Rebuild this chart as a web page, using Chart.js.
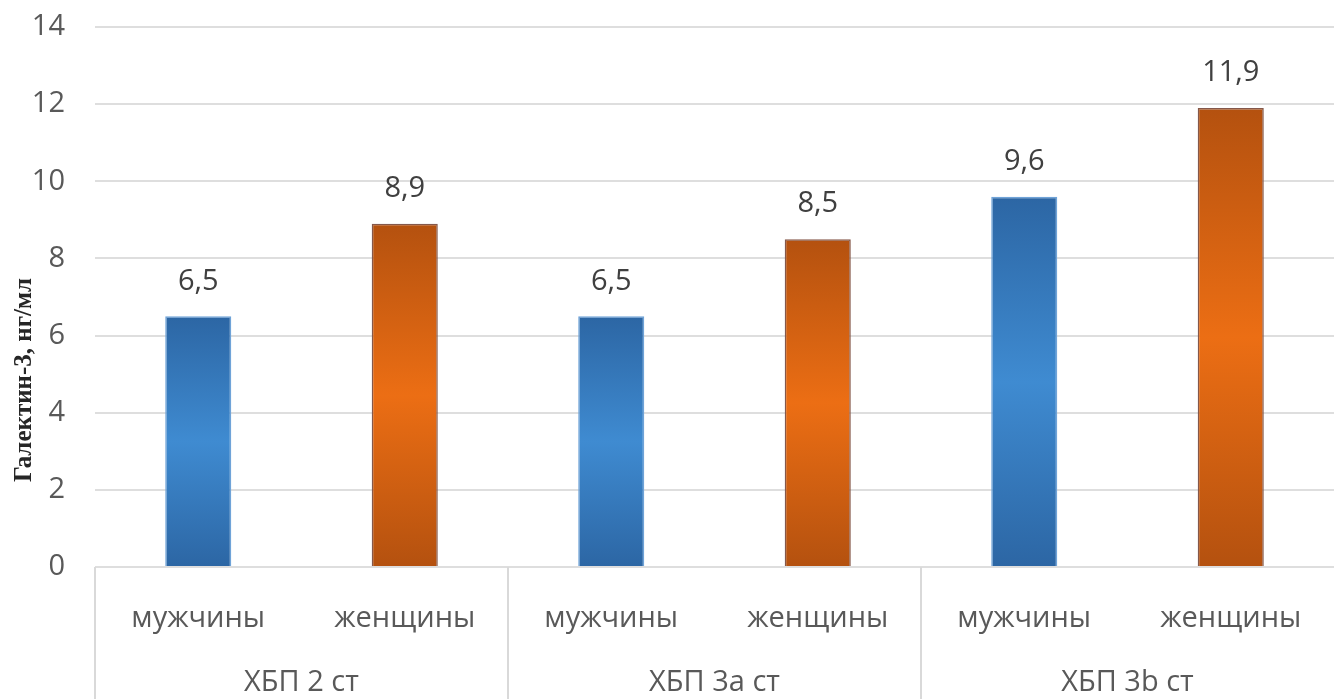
<!DOCTYPE html>
<html lang="ru">
<head>
<meta charset="utf-8">
<title>Галектин-3</title>
<script src="https://cdn.jsdelivr.net/npm/chart.js@4.4.1/dist/chart.umd.min.js"></script>
<style>
    html, body { margin: 0; padding: 0; background: #fff; }
    #contenedor { width: 1334px; height: 699px; position: relative; }
</style>
</head>
<body>
<div id="contenedor"><canvas id="grafico"></canvas></div>
<script>
// Datos del gráfico
const subgrupos = ['мужчины', 'женщины', 'мужчины', 'женщины', 'мужчины', 'женщины'];
const grupos = ['ХБП 2 ст', 'ХБП 3а ст', 'ХБП 3b ст'];
const valores = [6.5, 8.9, 6.5, 8.5, 9.6, 11.9];
const ticksY = [0, 2, 4, 6, 8, 10, 12, 14];
const tituloY = 'Галектин-3, нг/мл';

// Colores: [oscuro, claro, borde]
const azul = ['#2c66a4', '#3f8bd1', '#6fa3d8'];
const naranja = ['#b4510f', '#ec6e14', '#85584a'];

const fuente = '"Open Sans", sans-serif';
const grisTexto = '#595959';

function colorSerie(i) {
    return i % 2 === 0 ? azul : naranja;
}

// Degradado vertical por barra (oscuro - claro - oscuro)
function rellenoBarra(context) {
    const c = colorSerie(context.dataIndex);
    const y = context.chart.scales.y;
    if (!y || context.type !== 'data') return c[1];
    const top = y.getPixelForValue(context.raw);
    const base = y.getPixelForValue(0);
    if (!isFinite(top) || !isFinite(base) || top === base) return c[1];
    const g = context.chart.ctx.createLinearGradient(0, top, 0, base);
    g.addColorStop(0, c[0]);
    g.addColorStop(0.5, c[1]);
    g.addColorStop(1, c[0]);
    return g;
}

// Etiquetas de valor sobre las barras
const etiquetasDatos = {
    id: 'etiquetasDatos',
    afterDatasetsDraw(chart) {
        const ctx = chart.ctx;
        const meta = chart.getDatasetMeta(0);
        ctx.save();
        ctx.font = '29px ' + fuente;
        ctx.fillStyle = '#404040';
        ctx.textAlign = 'center';
        ctx.textBaseline = 'middle';
        meta.data.forEach((barra, i) => {
            ctx.fillText(valores[i].toFixed(1).replace('.', ','), barra.x, barra.y - 35);
        });
        ctx.restore();
    }
};

// Segundo nivel del eje X: separadores y nombres de grupo
const ejeGrupos = {
    id: 'ejeGrupos',
    afterDraw(chart) {
        const x = chart.scales.x;
        const area = chart.chartArea;
        const ctx = chart.ctx;
        ctx.save();
        ctx.strokeStyle = '#d9d9d9';
        ctx.lineWidth = 2;
        for (let g = 0; g < grupos.length; g++) {
            const px = g === 0 ? area.left
                : (x.getPixelForValue(2 * g - 1) + x.getPixelForValue(2 * g)) / 2;
            ctx.beginPath();
            ctx.moveTo(px, area.bottom);
            ctx.lineTo(px, chart.height);
            ctx.stroke();
        }
        ctx.font = '29px ' + fuente;
        ctx.fillStyle = grisTexto;
        ctx.textAlign = 'center';
        ctx.textBaseline = 'middle';
        grupos.forEach((nombre, i) => {
            const cx = (x.getPixelForValue(2 * i) + x.getPixelForValue(2 * i + 1)) / 2;
            ctx.fillText(nombre, cx, area.bottom + 116);
        });
        ctx.restore();
    }
};

// Título del eje Y
const tituloEjeY = {
    id: 'tituloEjeY',
    afterDraw(chart) {
        const ctx = chart.ctx;
        ctx.save();
        ctx.translate(25, 380);
        ctx.rotate(-Math.PI / 2);
        ctx.font = 'bold 25px "Liberation Serif", "Times New Roman", serif';
        ctx.fillStyle = '#262626';
        ctx.textAlign = 'center';
        ctx.textBaseline = 'middle';
        ctx.fillText(tituloY, 0, 0);
        ctx.restore();
    }
};

// Crear gráfico
const grafico = new Chart(document.getElementById('grafico'), {
    type: 'bar',
    data: {
        labels: subgrupos,
        datasets: [{
            data: valores,
            backgroundColor: rellenoBarra,
            borderColor: (context) => colorSerie(context.dataIndex)[2],
            borderWidth: 1.5,
            barPercentage: 0.32,
            categoryPercentage: 1
        }]
    },
    options: {
        responsive: true,
        maintainAspectRatio: false,
        animation: false,
        layout: {
            padding: 0
        },
        plugins: {
            legend: { display: false },
            tooltip: { enabled: false }
        },
        scales: {
            x: {
                grid: { display: false },
                border: { display: false },
                ticks: {
                    padding: 26,
                    color: grisTexto,
                    font: { family: fuente, size: 29 }
                },
                afterFit(scale) { scale.height = 132; }
            },
            y: {
                min: 0,
                max: 14,
                afterBuildTicks(scale) {
                    scale.ticks = ticksY.map(v => ({ value: v }));
                },
                grid: { color: '#dedede', lineWidth: 2, drawTicks: false },
                border: { display: false },
                ticks: {
                    padding: 30,
                    color: grisTexto,
                    font: { family: fuente, size: 29 }
                },
                afterFit(scale) {
                    scale.width = 95;
                    scale.paddingTop = 27;
                    scale.paddingBottom = 0;
                }
            }
        }
    },
    plugins: [etiquetasDatos, ejeGrupos, tituloEjeY]
});
</script>
</body>
</html>
